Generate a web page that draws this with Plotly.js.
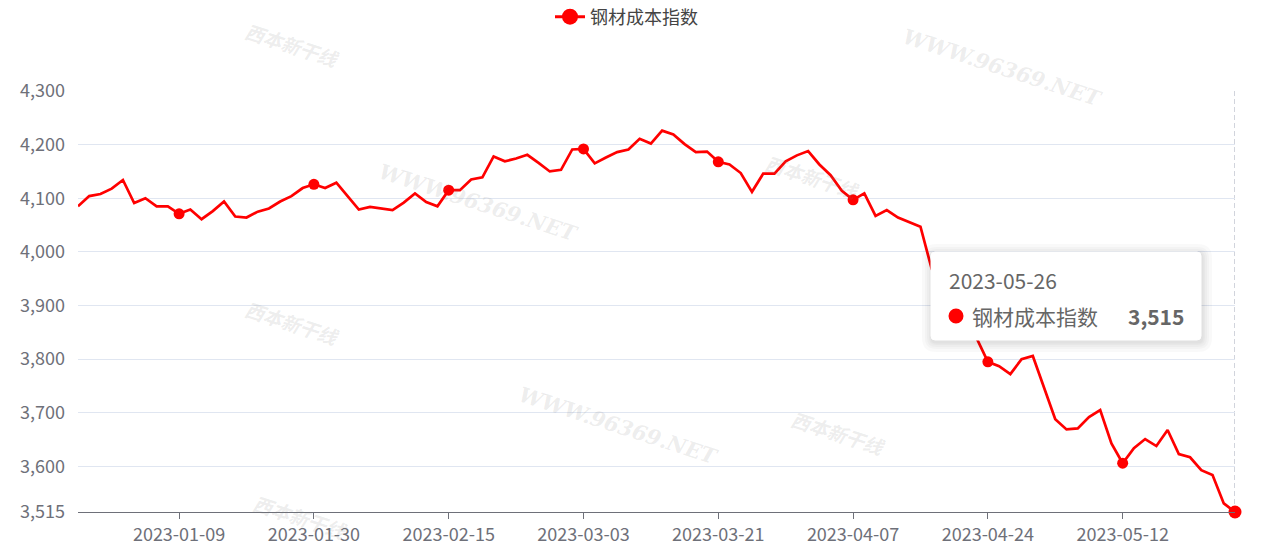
<!DOCTYPE html>
<html>
<head>
<meta charset="utf-8">
<script src="https://cdn.plot.ly/plotly-3.0.1.min.js"></script>
<style>
html,body{margin:0;padding:0;background:#fff;}
#chart{width:1271px;height:548px;}
</style>
</head>
<body>
<div id="chart"></div>
<script>
const seriesName = '钢材成本指数';

const dates = [
  '2022-12-26','2022-12-27','2022-12-28','2022-12-29','2022-12-30',
  '2023-01-03','2023-01-04','2023-01-05','2023-01-06','2023-01-09',
  '2023-01-10','2023-01-11','2023-01-12','2023-01-13','2023-01-16',
  '2023-01-17','2023-01-18','2023-01-19','2023-01-20','2023-01-28',
  '2023-01-29','2023-01-30','2023-01-31','2023-02-01','2023-02-02',
  '2023-02-03','2023-02-06','2023-02-07','2023-02-08','2023-02-09',
  '2023-02-10','2023-02-13','2023-02-14','2023-02-15','2023-02-16',
  '2023-02-17','2023-02-20','2023-02-21','2023-02-22','2023-02-23',
  '2023-02-24','2023-02-27','2023-02-28','2023-03-01','2023-03-02',
  '2023-03-03','2023-03-06','2023-03-07','2023-03-08','2023-03-09',
  '2023-03-10','2023-03-13','2023-03-14','2023-03-15','2023-03-16',
  '2023-03-17','2023-03-20','2023-03-21','2023-03-22','2023-03-23',
  '2023-03-24','2023-03-27','2023-03-28','2023-03-29','2023-03-30',
  '2023-03-31','2023-04-03','2023-04-04','2023-04-06','2023-04-07',
  '2023-04-10','2023-04-11','2023-04-12','2023-04-13','2023-04-14',
  '2023-04-17','2023-04-18','2023-04-19','2023-04-20','2023-04-21',
  '2023-04-23','2023-04-24','2023-04-25','2023-04-26','2023-04-27',
  '2023-04-28','2023-05-04','2023-05-05','2023-05-06','2023-05-08',
  '2023-05-09','2023-05-10','2023-05-11','2023-05-12','2023-05-15',
  '2023-05-16','2023-05-17','2023-05-18','2023-05-19','2023-05-22',
  '2023-05-23','2023-05-24','2023-05-25','2023-05-26'
];

const values = [
  4085,4104,4108,4118,4134,4091,4100,4085,4085,4071,
  4079,4061,4076,4094,4066,4064,4075,4081,4094,4104,
  4119,4126,4119,4129,4104,4079,4084,4081,4078,4092,
  4109,4093,4085,4115,4115,4135,4139,4178,4169,4174,
  4181,4166,4150,4153,4191,4192,4165,4176,4186,4191,
  4211,4202,4226,4219,4201,4186,4187,4168,4163,4147,
  4112,4146,4146,4169,4180,4188,4163,4143,4114,4097,
  4109,4067,4078,4064,4056,4047,3968,3933,3901,3869,
  3839,3795,3787,3772,3800,3806,3746,3688,3669,3671,
  3692,3705,3643,3606,3634,3651,3638,3668,3623,3617,
  3593,3584,3531,3515
];

const tickLabels = ['2023-01-09','2023-01-30','2023-02-15','2023-03-03',
                    '2023-03-21','2023-04-07','2023-04-24','2023-05-12'];

const yTicks = [3515,3600,3700,3800,3900,4000,4100,4200,4300];

// ---- layout helpers (pixel -> paper) ----
const W = 1271, H = 548;
const M = {l:78, r:36, t:91, b:36};
const PW = W - M.l - M.r, PH = H - M.t - M.b;
const px = x => (x - M.l) / PW;
const py = y => (H - M.b - y) / PH;

const lastIdx = dates.length - 1;
const markerSizes = dates.map((d, i) => i === lastIdx ? 13 : (tickLabels.includes(d) ? 11 : 0));

const RED = '#FF0000';
const FONT = '"Noto Sans CJK SC", "Noto Sans", sans-serif';

const traces = [
  {
    x: dates, y: values, type: 'scatter', mode: 'lines+markers',
    name: seriesName, showlegend: false, cliponaxis: false,
    line: {color: RED, width: 2.7},
    marker: {color: RED, size: markerSizes, opacity: 1, line: {width: 0}},
    hoverinfo: 'x+y'
  },
  {
    x: [null], y: [null], type: 'scatter', mode: 'lines+markers',
    name: seriesName, showlegend: true,
    line: {color: RED, width: 3},
    marker: {color: RED, size: 16, opacity: 1, line: {width: 0}}
  }
];

function roundRect(x0, y0, x1, y1, r) {
  const a = [px(x0), py(y0)], b = [px(x1), py(y1)];
  const rx = r / PW, ry = r / PH;
  const L = a[0], R = b[0], T = a[1], B = b[1];
  return `M${L+rx},${T} L${R-rx},${T} Q${R},${T} ${R},${T-ry} L${R},${B+ry} Q${R},${B} ${R-rx},${B} L${L+rx},${B} Q${L},${B} ${L},${B+ry} L${L},${T-ry} Q${L},${T} ${L+rx},${T} Z`;
}

const tip = {x0: 931, y0: 252, x1: 1201, y1: 340};
const shapes = [
  {
    type: 'line', xref: 'x', yref: 'paper',
    x0: dates[lastIdx], x1: dates[lastIdx], y0: 0, y1: 1,
    line: {color: '#A3A8B8', width: 1, dash: '5px,3px'}, layer: 'below'
  }
];
[10, 7, 5, 3, 1.5].forEach(s => {
  shapes.push({
    type: 'path', xref: 'paper', yref: 'paper',
    path: roundRect(tip.x0 - s + 1, tip.y0 - s + 2, tip.x1 + s + 1, tip.y1 + s + 2, 4 + s),
    fillcolor: 'rgba(0,0,0,0.022)', line: {width: 0}, layer: 'above'
  });
});
shapes.push({
  type: 'path', xref: 'paper', yref: 'paper',
  path: roundRect(tip.x0, tip.y0, tip.x1, tip.y1, 4),
  fillcolor: '#FFFFFF', line: {color: '#FFFFFF', width: 1}, layer: 'above'
});
shapes.push({
  type: 'circle', xref: 'paper', yref: 'paper',
  x0: px(948.5), x1: px(963.5), y0: py(323.5), y1: py(308.5),
  fillcolor: RED, line: {width: 0}, layer: 'above'
});

const fmt = v => v.toLocaleString('en-US');

const wmColor = 'rgba(120,120,120,0.14)';
const wmNet = [[1002, 67], [478, 202], [618, 425]];
const wmCn = [[292, 44], [812, 176], [292, 322], [838, 432], [300, 516]];

const annotations = [];
wmNet.forEach(p => annotations.push({
  xref: 'paper', yref: 'paper', x: px(p[0]), y: py(p[1]),
  xanchor: 'center', yanchor: 'middle',
  text: '<b><i>WWW.96369.NET</i></b>', showarrow: false, textangle: 18,
  font: {family: '"DejaVu Serif", "Liberation Serif", serif', size: 21, color: wmColor}
}));
wmCn.forEach(p => annotations.push({
  xref: 'paper', yref: 'paper', x: px(p[0]), y: py(p[1]),
  xanchor: 'center', yanchor: 'middle',
  text: '<b><i>西本新干线</i></b>', showarrow: false, textangle: 18,
  font: {family: FONT, size: 19, color: wmColor}
}));

annotations.push(
  {
    xref: 'paper', yref: 'paper', x: px(947), y: py(280), xanchor: 'left', yanchor: 'middle',
    text: dates[lastIdx], showarrow: false,
    font: {family: FONT, size: 21, color: '#666666'}
  },
  {
    xref: 'paper', yref: 'paper', x: px(970), y: py(316), xanchor: 'left', yanchor: 'middle',
    text: seriesName, showarrow: false,
    font: {family: FONT, size: 21, color: '#666666'}
  },
  {
    xref: 'paper', yref: 'paper', x: px(1186), y: py(316), xanchor: 'right', yanchor: 'middle',
    text: '<b>' + fmt(values[lastIdx]) + '</b>', showarrow: false,
    font: {family: FONT, size: 21, color: '#666666'}
  }
);

const layout = {
  width: W, height: H,
  margin: {l: M.l, r: M.r, t: M.t, b: M.b, pad: 0, autoexpand: false},
  paper_bgcolor: '#FFFFFF', plot_bgcolor: '#FFFFFF',
  font: {family: FONT, color: '#6E7079', size: 18},
  showlegend: true,
  legend: {
    orientation: 'h', x: px(550), xanchor: 'left', y: py(17), yanchor: 'middle',
    font: {family: FONT, size: 18, color: '#444444'}, bgcolor: 'rgba(0,0,0,0)'
  },
  xaxis: {
    type: 'category', range: [0, lastIdx], autorange: false,
    tickmode: 'array', tickvals: tickLabels, ticktext: tickLabels,
    showgrid: false, zeroline: false,
    showline: true, linecolor: '#6E7079', linewidth: 1,
    ticks: 'outside', ticklen: 6, tickcolor: '#6E7079', tickwidth: 1,
    tickfont: {family: FONT, size: 18, color: '#6E7079'}
  },
  yaxis: {
    range: [yTicks[0], yTicks[yTicks.length - 1]], autorange: false,
    tickmode: 'array', tickvals: yTicks, tickformat: ',',
    showgrid: true, gridcolor: '#E0E6F1', gridwidth: 1,
    zeroline: false, showline: false, ticks: '',
    ticklabelstandoff: 12,
    tickfont: {family: FONT, size: 18, color: '#6E7079'}
  },
  shapes: shapes,
  annotations: annotations,
  hovermode: 'x'
};

Plotly.newPlot('chart', traces, layout, {displayModeBar: false, responsive: false});
</script>
</body>
</html>
